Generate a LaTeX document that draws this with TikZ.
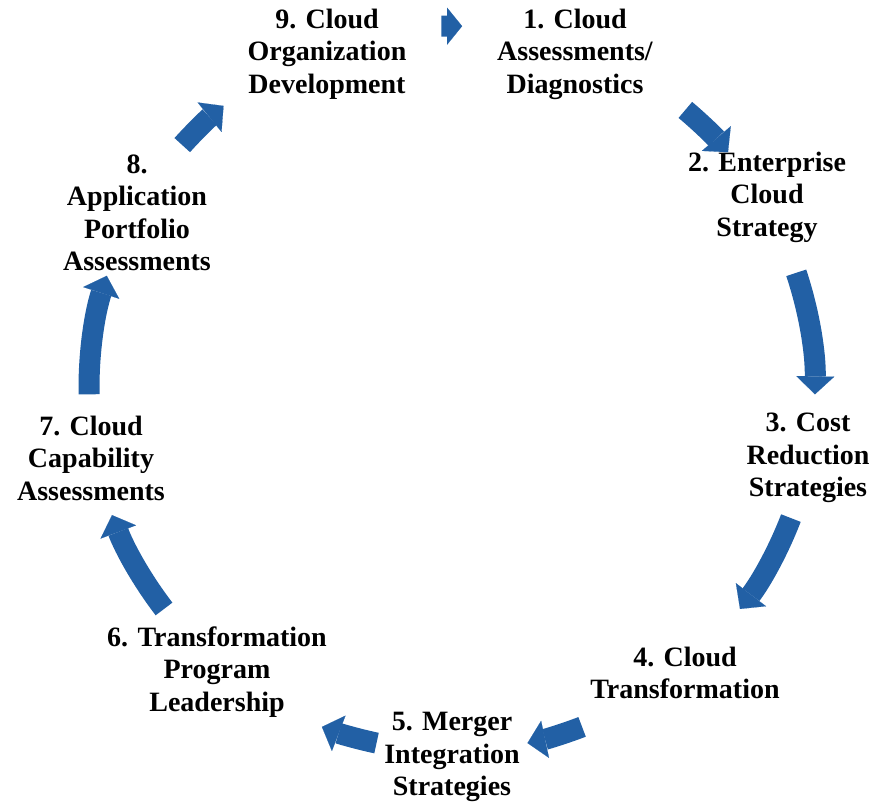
\documentclass[tikz,border=0pt]{standalone}
\usepackage{fontspec}
\setmainfont{Liberation Serif}
\usetikzlibrary{positioning,calc,arrows.meta}
\definecolor{cycleblue}{RGB}{34,96,165}
\tikzset{stage/.style={font=\bfseries\fontsize{28}{32.5}\selectfont,align=center,inner sep=0pt},
         cycarrow/.style={draw=cycleblue,line width=21pt,-{Triangle[length=18pt,width=38pt,line width=0.1pt]}}
}

\begin{document}
\begin{tikzpicture}[x=1pt,y=1pt]
\useasboundingbox (0,0) rectangle (874,805);

\coordinate (c) at (452,417);

\node[stage] (assess) at (575,751) {1. Cloud\\Assessments/\\Diagnostics};
\node[stage] (strategy) at (767,608) {2. Enterprise\\Cloud\\Strategy};
\node[stage] (cost) at (808,347) {3. Cost\\Reduction\\Strategies};
\node[stage] (transform) at (685,132) {4. Cloud\\Transformation};
\node[stage] (merger) at (452,48) {5. Merger\\Integration\\Strategies};
\node[stage] (program) at (217,133) {6. Transformation\\Program\\Leadership};
\node[stage] (capab) at (91,347) {7. Cloud\\Capability\\Assessments};
\node[stage] (portfolio) at (137,592) {8.\\Application\\Portfolio\\Assessments};
\node[stage] (orgdev) at (327,751) {9. Cloud\\Organization\\Development};

% arrows round the cycle
\coordinate (a1) at ($(c)+(91.7:362)$);
\coordinate (b1) at ($(c)+(88.4:362)$);
\coordinate (a2) at ($(c)+(50:363)$);
\coordinate (a3) at ($(c)+(18.5:363)$);
\coordinate (a4) at ($(c)+(-21:363)$);
\coordinate (a5) at ($(c)+(-69:363)$);
\coordinate (a6) at ($(c)+(-102:363)$);
\coordinate (a7) at ($(c)+(-142.5:363)$);
\coordinate (a8) at ($(c)+(-179:363)$);
\coordinate (a9) at ($(c)+(138:363)$);
\draw[cycarrow,-{Triangle[length=15pt,width=37pt,line width=0.1pt]}] (a1) -- (b1);
\draw[cycarrow] (a2) arc[start angle=50,end angle=40.5,radius=363];
\draw[cycarrow] (a3) arc[start angle=18.5,end angle=-1,radius=363];
\draw[cycarrow] (a4) arc[start angle=-21,end angle=-37.5,radius=363];
\draw[cycarrow] (a5) arc[start angle=-69,end angle=-78,radius=363];
\draw[cycarrow] (a6) arc[start angle=-102,end angle=-111,radius=363];
\draw[cycarrow] (a7) arc[start angle=-142.5,end angle=-159.5,radius=363];
\draw[cycarrow] (a8) arc[start angle=-179,end angle=-198,radius=363];
\draw[cycarrow] (a9) arc[start angle=138,end angle=129,radius=363];

\end{tikzpicture}
\end{document}
